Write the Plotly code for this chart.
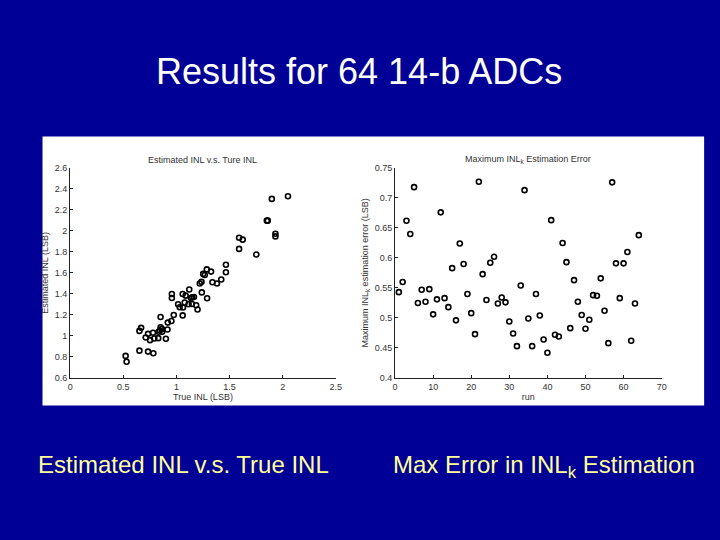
import plotly.graph_objects as go

# Left: Estimated INL vs True INL (64 ADCs)
true_inl = [0.522, 0.531, 0.652, 0.652, 0.668, 0.711, 0.733, 0.733, 0.752, 0.783,
            0.780, 0.792, 0.829, 0.832, 0.845, 0.851, 0.851, 0.863, 0.866, 0.901,
            0.916, 0.919, 0.953, 0.957, 0.957, 0.975, 1.016, 1.031, 1.059, 1.059,
            1.062, 1.078, 1.087, 1.115, 1.121, 1.137, 1.146, 1.149, 1.165, 1.186,
            1.199, 1.220, 1.236, 1.239, 1.252, 1.267, 1.286, 1.289, 1.326, 1.339,
            1.382, 1.422, 1.466, 1.466, 1.590, 1.590, 1.624, 1.752, 1.851, 1.860,
            1.898, 1.932, 1.932, 2.050]
est_inl = [0.810, 0.754, 0.860, 1.048, 1.077, 0.986, 1.020, 0.851, 0.960, 0.835,
           1.030, 0.976, 0.979, 1.039, 1.051, 1.180, 1.083, 1.067, 1.039, 0.973,
           1.061, 1.127, 1.142, 1.399, 1.362, 1.199, 1.302, 1.274, 1.196, 1.399,
           1.271, 1.318, 1.384, 1.302, 1.443, 1.362, 1.305, 1.368, 1.371, 1.293,
           1.252, 1.500, 1.515, 1.415, 1.591, 1.581, 1.634, 1.359, 1.613, 1.512,
           1.500, 1.537, 1.606, 1.678, 1.829, 1.935, 1.917, 1.776, 2.098, 2.098,
           2.305, 1.973, 1.948, 2.330]

# Right: maximum INL_k estimation error per run
runs = list(range(1, 65))
max_err = [0.543, 0.560, 0.662, 0.640, 0.718, 0.525, 0.547, 0.527, 0.548, 0.506,
           0.531, 0.676, 0.533, 0.518, 0.583, 0.496, 0.624, 0.590, 0.540, 0.508,
           0.473, 0.727, 0.573, 0.530, 0.592, 0.602, 0.524, 0.534, 0.526, 0.494,
           0.474, 0.453, 0.554, 0.713, 0.499, 0.453, 0.540, 0.504, 0.464, 0.442,
           0.663, 0.472, 0.469, 0.625, 0.593, 0.483, 0.563, 0.527, 0.505, 0.482,
           0.497, 0.538, 0.537, 0.566, 0.512, 0.458, 0.726, 0.591, 0.533, 0.591,
           0.610, 0.462, 0.524, 0.638]

left_xticks = [0, 0.5, 1, 1.5, 2, 2.5]
left_yticks = [0.6, 0.8, 1, 1.2, 1.4, 1.6, 1.8, 2, 2.2, 2.4, 2.6]
right_xticks = [0, 10, 20, 30, 40, 50, 60, 70]
right_yticks = [0.4, 0.45, 0.5, 0.55, 0.6, 0.65, 0.7, 0.75]

W, H = 720, 540
BG = "rgb(0,0,150)"
TICKF = dict(family="Liberation Sans, Arial", size=9, color="#333333")
TITLEF = dict(family="Liberation Sans, Arial", size=9, color="#333333")
LABELF = dict(family="Liberation Sans, Arial", size=24, color="rgb(255,255,150)")

marker = dict(symbol="circle-open", size=5, color="black", line=dict(width=1.6, color="black"))

fig = go.Figure()
fig.add_trace(go.Scatter(x=true_inl, y=est_inl, mode="markers", marker=marker,
                         xaxis="x", yaxis="y", showlegend=False))
fig.add_trace(go.Scatter(x=runs, y=max_err, mode="markers", marker=marker,
                         xaxis="x2", yaxis="y2", showlegend=False))

def px(x):
    return x / W

def py(y):
    return 1 - y / H

axis_common = dict(showgrid=False, zeroline=False, showline=True, linecolor="#222222",
                   linewidth=1, ticks="inside", ticklen=3, tickcolor="#222222",
                   tickfont=TICKF, mirror=False)

def note(text, x, y, font):
    return dict(text=text, x=x, y=y, xref="paper", yref="paper", xanchor="center",
                yanchor="middle", showarrow=False, font=font)

fig.update_layout(
    width=W, height=H,
    margin=dict(l=0, r=0, t=0, b=0),
    paper_bgcolor=BG,
    plot_bgcolor="white",
    xaxis=dict(domain=[px(68), px(337)], range=[0, 2.5], tickvals=left_xticks,
               anchor="y", title=dict(text="True INL (LSB)", font=TITLEF, standoff=2),
               **axis_common),
    yaxis=dict(domain=[py(380), py(166)], range=[0.6, 2.6], tickvals=left_yticks,
               anchor="x", title=dict(text="Estimated INL (LSB)", font=TITLEF, standoff=4),
               **axis_common),
    xaxis2=dict(domain=[px(397), px(667)], range=[0, 70], tickvals=right_xticks,
                anchor="y2", title=dict(text="run", font=TITLEF, standoff=2),
                **axis_common),
    yaxis2=dict(domain=[py(380), py(166)], range=[0.4, 0.75], tickvals=right_yticks,
                anchor="x2",
                title=dict(text="Maximum INL<sub>k</sub> estimation error (LSB)", font=TITLEF, standoff=4),
                **axis_common),
    shapes=[dict(type="rect", xref="paper", yref="paper",
                 x0=px(40), x1=px(710), y0=py(408), y1=py(134),
                 fillcolor="white", line=dict(width=0), layer="below")],
    annotations=[
        note("Results for 64 14-b ADCs", 0.5, py(68),
             dict(family="Liberation Sans, Arial", size=36, color="white")),
        note("Estimated INL v.s. Ture INL", (px(68) + px(337)) / 2, py(158), TITLEF),
        note("Maximum INL<sub>k</sub> Estimation Error", (px(397) + px(667)) / 2, py(157), TITLEF),
        note("Estimated INL v.s. True INL", px(183), py(468), LABELF),
        note("Max Error in INL<sub>k</sub> Estimation", px(548), py(470), LABELF),
    ],
)

fig.write_html("out.html",
               config={"displayModeBar": False},
               post_script="document.body.style.margin='0px';"
                           "document.body.style.background='rgb(0,0,150)';")
